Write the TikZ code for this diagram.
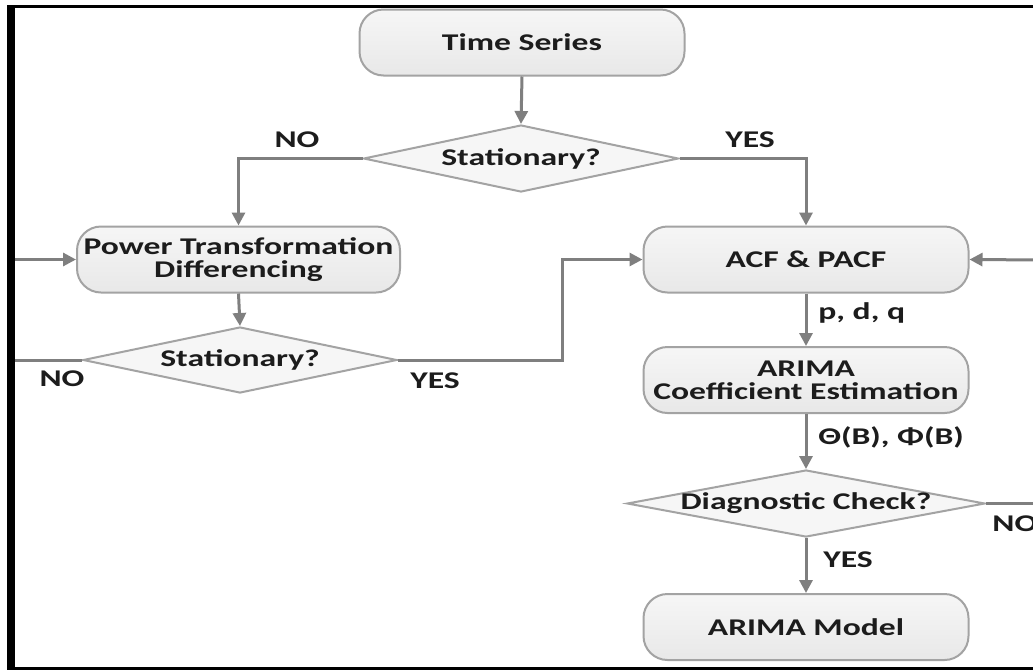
\documentclass[tikz,border=0pt]{standalone}
\usepackage{fontspec}
\setmainfont{Carlito}
\usetikzlibrary{shapes.geometric,arrows.meta}
\definecolor{linegray}{HTML}{7F7F7F}
\definecolor{boxline}{HTML}{A3A3A3}
\definecolor{boxtop}{HTML}{F6F6F6}
\definecolor{boxbot}{HTML}{E8E8E8}
\definecolor{ink}{HTML}{1C1C1C}
\newcommand{\wide}[1]{\scalebox{1.4}[1]{#1}}
\tikzset{
  lbl/.style={font=\bfseries\fontsize{12}{12}\selectfont, text=ink, inner sep=0pt},
  stepbox/.style={draw=boxline, line width=1pt, rounded corners=12pt,
    top color=boxtop, bottom color=boxbot, minimum width=162.5pt,
    minimum height=33pt, align=center, inner sep=0pt,
    font=\bfseries\fontsize{12}{11.5}\selectfont, text=ink},
  decide/.style={diamond, draw=boxline, line width=1pt, fill=boxtop,
    inner sep=0pt, font=\bfseries\fontsize{12}{12}\selectfont, text=ink},
  flow/.style={draw=linegray, line width=1.5pt},
  arr/.style={flow, -{Triangle[length=6.5pt,width=6.5pt]}},
}
\begin{document}
\begin{tikzpicture}[x=0.5pt, y=-0.5pt]
\useasboundingbox (0,0) rectangle (1033,670);
\clip (0,0) rectangle (1033,670);
\fill[white] (0,0) rectangle (1033,670);

% boxes
\node[stepbox] (ts) at (522,42.5) {\wide{Time Series}};
\node[stepbox, minimum width=161.5pt] (pt) at (238.5,259.5) {\wide{Power Transformation}\\\wide{Differencing}};
\node[stepbox] (acf) at (806,259.5) {\wide{ACF \& PACF}};
\node[stepbox] (est) at (806,380) {\wide{ARIMA}\\\wide{Coefficient Estimation}};
\node[stepbox] (model) at (806,627) {\wide{ARIMA Model}};

% decisions
\node[decide, minimum width=157.5pt, minimum height=33.5pt] (d1) at (521,158.5) {\makebox[0pt]{\wide{Stationary?}}};
\node[decide, minimum width=157pt, minimum height=33pt] (d2) at (240,360) {\makebox[0pt]{\wide{Stationary?}}};
\node[decide, minimum width=179pt, minimum height=33.5pt] (d3) at (806,503.5) {\makebox[0pt]{\wide{Diagnostic Check?}}};

% free ends of connectors
\coordinate (loopL) at (11,360);
\coordinate (jog) at (562,360);
\coordinate (rin) at (1045,260);
\coordinate (rout) at (1045,503.5);

% connectors
\draw[arr] (ts.south) -- (d1.north);
\draw[arr] (d1.west) -| (pt.north);
\draw[arr] (d1.east) -| (acf.north);
\draw[arr] (pt.south) -- (d2.north);
\draw[arr] (d2.west) -- (loopL) |- (pt.west);
\draw[arr] (d2.east) -- (jog) |- (acf.west);
\draw[arr] (rin) -- (acf.east);
\draw[arr] (acf.south) -- (est.north);
\draw[arr] (est.south) -- (d3.north);
\draw[flow] (d3.east) -- (rout);
\draw[arr] (d3.south) -- (model.north);

% labels
\node[lbl] (l1) at (297,140) {\wide{NO}};
\node[lbl] (l2) at (750,140) {\wide{YES}};
\node[lbl] (l3) at (62,379) {\wide{NO}};
\node[lbl] (l4) at (435,381) {\wide{YES}};
\node[lbl, anchor=west] (l5) at (818,313) {\wide{p, d, q}};
\node[lbl, anchor=west] (l6) at (818,437) {\wide{Θ(B), Φ(B)}};
\node[lbl, anchor=west] (l7) at (992,524) {\wide{NO}};
\node[lbl, anchor=west] (l8) at (823,560) {\wide{YES}};

% frame
\fill[black] (7,5) rectangle (15,670);
\fill[black] (7,5) rectangle (1033,7.5);
\fill[black] (7,667) rectangle (1033,670);
\end{tikzpicture}
\end{document}
